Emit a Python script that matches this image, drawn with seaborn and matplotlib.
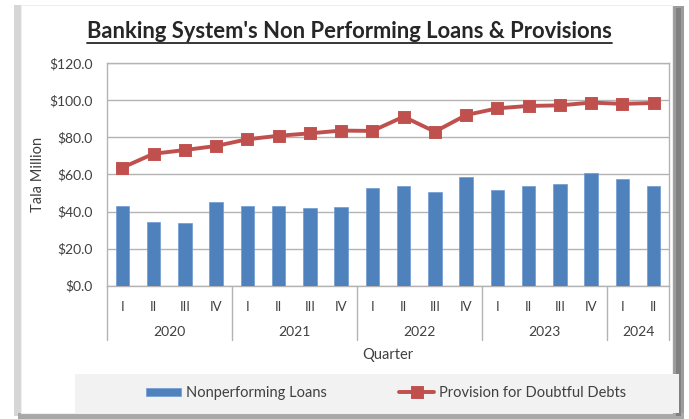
import matplotlib
matplotlib.use("Agg")
import matplotlib.pyplot as plt
from matplotlib.patches import Rectangle
from matplotlib.lines import Line2D
import matplotlib.transforms as mtransforms
import seaborn as sns
import pandas as pd

years = ["2020", "2021", "2022", "2023", "2024"]
quarters_per_year = [4, 4, 4, 4, 2]
quarter_names = ["I", "II", "III", "IV"]
npl = [43.2, 34.2, 33.8, 45.2, 42.8, 42.8, 41.9, 42.3, 52.6, 54.0, 50.4, 58.5,
       51.6, 53.6, 54.9, 60.8, 57.8, 53.6]
provision = [63.7, 71.2, 73.2, 75.4, 79.0, 80.9, 82.2, 83.7, 83.5, 91.2, 83.1, 92.1,
             95.7, 97.0, 97.3, 98.8, 98.1, 98.6]
yticks = [0, 20, 40, 60, 80, 100, 120]

keys, qlabels = [], []
for y, n in zip(years, quarters_per_year):
    for q in quarter_names[:n]:
        keys.append(f"{y} {q}")
        qlabels.append(q)
df = pd.DataFrame({"period": keys, "npl": npl, "prov": provision})

sns.set_theme(style="white")
plt.rcParams["font.family"] = ["Lato", "DejaVu Sans"]
TXT = "#404040"
W, H = 689, 419
fig = plt.figure(figsize=(W / 100, H / 100), dpi=100)

def fx(x): return x / W
def fy(y): return 1 - y / H

def frect(x0, y0, x1, y1, **kw):
    fig.patches.append(Rectangle((fx(x0), fy(y1)), fx(x1) - fx(x0), fy(y0) - fy(y1),
                                 transform=fig.transFigure, **kw))

# frame
frect(14, 5, 21, 416, facecolor="#D6D6D6", edgecolor="none", zorder=-10)
frect(672, 6, 684, 416, facecolor="#9C9C9C", edgecolor="none", zorder=-10)
frect(676, 8, 681, 416, facecolor="#808080", edgecolor="none", zorder=-9)
frect(18, 413, 684, 419, facecolor="#A8A8A8", edgecolor="none", zorder=-10)
frect(21, 5, 672, 413, facecolor="white", edgecolor="#EFEFEF", linewidth=0.8, zorder=-8)
# legend background
frect(75, 374, 679, 413, facecolor="#F2F2F2", edgecolor="none", zorder=-7)

ax = fig.add_axes([fx(106.7), fy(285.7), fx(669.3) - fx(106.7), fy(63.3) - fy(285.7)])
ax.set_facecolor("white")

sns.barplot(data=df, x="period", y="npl", color="#4F81BD", width=0.43, saturation=1,
            edgecolor="#6E9BD1", linewidth=0.5, ax=ax, label="Nonperforming Loans", zorder=3)
sns.pointplot(data=df, x="period", y="prov", color="#C0504D", markers="s", markersize=7,
              linewidth=2.8, ax=ax, label="Provision for Doubtful Debts", zorder=4)

ax.set_xlim(-0.5, len(keys) - 0.5)
ax.set_ylim(0, 120)
ax.set_yticks(yticks)
ax.set_yticklabels([f"${v:.1f}" for v in yticks], fontsize=10, color=TXT)
ax.yaxis.grid(True, color="#B3B3B3", linewidth=1)
ax.set_axisbelow(True)
ax.set_xticks(range(len(keys)))
ax.set_xticklabels(qlabels, fontsize=9.5, color=TXT)
ax.tick_params(axis="x", length=0, pad=11)
ax.tick_params(axis="y", length=0, pad=10)
for s in ["left", "right", "top", "bottom"]:
    ax.spines[s].set_visible(True)
    ax.spines[s].set_color("#B3B3B3")
    ax.spines[s].set_linewidth(1)
ax.set_xlabel("Quarter", fontsize=10.5, color=TXT, labelpad=25)
ax.set_ylabel("Tala Million", fontsize=10.5, color=TXT, labelpad=3)

# year group labels and separators
trans = mtransforms.blended_transform_factory(ax.transData, ax.transAxes)
bounds = [-0.5]
for n in quarters_per_year:
    bounds.append(bounds[-1] + n)
for b in bounds:
    ax.add_line(Line2D([b, b], [0, -0.245], transform=trans, color="#B3B3B3", linewidth=1,
                       clip_on=False))
for i, y in enumerate(years):
    ax.text((bounds[i] + bounds[i + 1]) / 2, -0.208, y, transform=trans, ha="center", va="center",
            fontsize=10, color=TXT)

# title with underline
t = fig.text(fx(349.5), fy(31), "Banking System's Non Performing Loans & Provisions",
             ha="center", va="center", fontsize=15.8, fontweight="bold", color="#262626")
fig.canvas.draw()
bb = t.get_window_extent().transformed(fig.transFigure.inverted())
fig.add_artist(Line2D([bb.x0, bb.x1], [fy(43), fy(43)], transform=fig.transFigure,
                      color="#262626", linewidth=1.3))

if ax.get_legend():
    ax.get_legend().remove()
h, l = ax.get_legend_handles_labels()
order = [l.index("Nonperforming Loans"), l.index("Provision for Doubtful Debts")]
fig.legend([h[i] for i in order], [l[i] for i in order], loc="center",
           bbox_to_anchor=(fx(386), fy(393)), ncol=2, frameon=False,
           fontsize=10.5, handlelength=2.4, handletextpad=0.3, columnspacing=5.0,
           handleheight=0.5, labelcolor=TXT)

fig.savefig("out.png", dpi=100)
